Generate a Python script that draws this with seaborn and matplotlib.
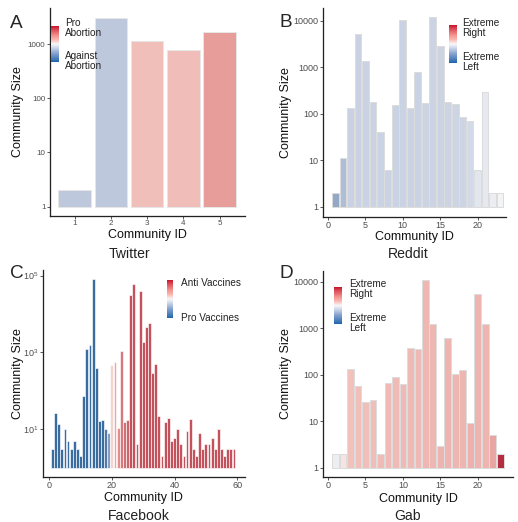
import numpy as np
import pandas as pd
import seaborn as sns
import matplotlib.pyplot as plt
from matplotlib.colors import LinearSegmentedColormap, Normalize
from matplotlib.cm import ScalarMappable

# dados (tamanho das comunidades e inclinação)
twitter_ids = [1, 2, 3, 4, 5]
twitter_size = [2, 3100, 1170, 790, 1660]
twitter_lean = [-0.3, -0.3, 0.24, 0.25, 0.47]

reddit_ids = list(range(1, 24))
reddit_size = [2, 11, 130, 5100, 1380, 180, 40, 6, 150, 10300, 135, 790,
               170, 11800, 2800, 180, 162, 86, 71, 6, 290, 2, 2]
reddit_lean = [-0.5, -0.36, -0.25, -0.25, -0.24, -0.24, -0.24, -0.24, -0.24,
               -0.24, -0.24, -0.24, -0.23, -0.23, -0.23, -0.23, -0.22, -0.22,
               -0.2, -0.11, -0.09, -0.07, -0.02]

facebook_ids = list(range(1, 60))
facebook_size = [3, 27, 14, 3, 10, 5, 3, 5, 3, 2, 71, 1200, 1550, 80000, 390,
                 16, 17, 10, 8, 475, 570, 11, 1100, 15, 17, 32000, 59000, 4,
                 40000, 1900, 4700, 5900, 290, 490, 22, 2, 15, 19, 5, 6, 10, 4,
                 2, 9, 18, 3, 2, 8, 3, 4, 4, 6, 3, 10, 3, 2, 3, 3, 3]
facebook_lean = [-0.95] * 17 + [-0.85, -0.55, 0.15, 0.4, 0.55, 0.65, 0.7,
                                0.75] + [0.85] * 34

gab_ids = list(range(1, 24))
gab_size = [2, 2, 130, 57, 26, 29, 2, 67, 89, 63, 380, 360, 10700, 1250, 3,
            620, 103, 126, 9, 5400, 1250, 5, 2]
gab_lean = [-0.06, 0.08, 0.23, 0.24, 0.24, 0.25, 0.26, 0.26, 0.27, 0.28, 0.28,
            0.28, 0.29, 0.29, 0.31, 0.31, 0.3, 0.3, 0.34, 0.32, 0.32, 0.42, 0.97]

W, H = 518, 522
cmap = LinearSegmentedColormap.from_list("lean", [
    (0.0, "#1a5fa8"), (0.025, "#2b6cb0"), (0.25, "#8aa4d0"), (0.38, "#c6d1e8"),
    (0.5, "#f7f7f7"), (0.62, "#fab7b1"), (0.74, "#f4918b"), (0.925, "#d6404e"),
    (1.0, "#c8102a")])
norm = Normalize(-1, 1)

sns.set_style("white")
plt.rcParams['font.family'] = ['Liberation Sans', 'DejaVu Sans']
plt.rcParams['mathtext.default'] = 'regular'


def fx(px):
    return px / W


def fy(py):
    return 1 - py / H


def draw_panel(box, ids, sizes, lean, xlim, ylim, xticks, yticks, yticklabels,
               edge, lw, tick_size):
    left, top, right, bottom = box
    ax = fig.add_axes([fx(left), fy(bottom), fx(right - left), (bottom - top) / H])
    df = pd.DataFrame({'id': ids, 'logsize': np.log10(sizes)})
    pal = {i: cmap(norm(v)) for i, v in zip(ids, lean)}
    sns.barplot(data=df, x='id', y='logsize', hue='id', palette=pal,
                native_scale=True, width=0.9, edgecolor=edge, linewidth=lw,
                errorbar=None, legend=False, ax=ax)
    ax.set_xlim(*xlim)
    ax.set_ylim(*ylim)
    ax.set_xticks(xticks)
    ax.set_yticks(yticks)
    ax.set_yticklabels(yticklabels)
    sns.despine(ax=ax)
    for s in ['left', 'bottom']:
        ax.spines[s].set_color('#222222')
        ax.spines[s].set_linewidth(1.3)
    ax.tick_params(length=3, width=0.8, color='#333333', labelcolor='#4d4d4d',
                   labelsize=tick_size, pad=1.5, left=True, bottom=True)
    ax.tick_params(axis='x', pad=1)
    ax.set_xlabel('Community ID', fontsize=12.5, color='#111111')
    ax.set_ylabel('Community Size', fontsize=12.5, color='#111111')
    return ax


def add_key(bar_box, top_label, bottom_label, label_x, top_y, bottom_y):
    left, top, right, bottom = bar_box
    cax = fig.add_axes([fx(left), fy(bottom), fx(right - left), (bottom - top) / H])
    cb = fig.colorbar(ScalarMappable(norm=norm, cmap=cmap), cax=cax)
    cb.outline.set_visible(False)
    cb.set_ticks([])
    fig.text(fx(label_x), fy(top_y), top_label, va='center', ha='left',
             fontsize=10, linespacing=1.0, color='#222222')
    fig.text(fx(label_x), fy(bottom_y), bottom_label, va='center', ha='left',
             fontsize=10, linespacing=1.0, color='#222222')


fig = plt.figure(figsize=(W / 72, H / 72), dpi=72)

# A - Twitter
ax_a = draw_panel((50, 8, 245, 216), twitter_ids, twitter_size, twitter_lean,
                  (0.32, 5.7), (-0.175, 3.67), [1, 2, 3, 4, 5], [0, 1, 2, 3],
                  ['1', '10', '100', '1000'], '#e6e6e6', 1.0, 8)
ax_a.xaxis.set_label_coords(0.5, -0.062)
ax_a.yaxis.set_label_coords(-0.133, 0.5)
add_key((51, 26, 59, 62), 'Pro\nAbortion', 'Against\nAbortion', 65, 28, 61)

# B - Reddit
ax_b = draw_panel((323, 8, 506, 216.7), reddit_ids, reddit_size, reddit_lean,
                  (-0.67, 23.8), (-0.215, 4.27), [0, 5, 10, 15, 20],
                  [0, 1, 2, 3, 4], ['1', '10', '100', '1000', '10000'],
                  '#dcdcdc', 1.0, 9)
ax_b.xaxis.set_label_coords(0.5, -0.068)
ax_b.yaxis.set_label_coords(-0.169, 0.5)
add_key((449, 25, 457, 63), 'Extreme\nRight', 'Extreme\nLeft', 462, 28, 62)

# C - Facebook
ax_c = draw_panel((42.7, 270, 245, 477), facebook_ids, facebook_size,
                  facebook_lean, (-2.1, 62.5), (-0.245, 5.145), [0, 20, 40, 60],
                  [1, 3, 5], ['$10^1$', '$10^3$', '$10^5$'], 'white', 0.6, 9)
ax_c.xaxis.set_label_coords(0.5, -0.074)
ax_c.yaxis.set_label_coords(-0.092, 0.5)
add_key((167, 280, 173, 318), 'Anti Vaccines', 'Pro Vaccines', 180.7, 283, 318)

# D - Gab
ax_d = draw_panel((323, 271, 513, 477), gab_ids, gab_size, gab_lean,
                  (-0.67, 24.7), (-0.2, 4.23), [0, 5, 10, 15, 20],
                  [0, 1, 2, 3, 4], ['1', '10', '100', '1000', '10000'],
                  '#dcdcdc', 1.0, 9)
ax_d.xaxis.set_label_coords(0.5, -0.078)
ax_d.yaxis.set_label_coords(-0.163, 0.5)
add_key((334, 287, 342, 324), 'Extreme\nRight', 'Extreme\nLeft', 348.7, 289, 323)

# letras e nomes das plataformas
for letter, x, y in [('A', 10, 27.5), ('B', 279.7, 27), ('C', 10, 278), ('D', 279.7, 278)]:
    fig.text(fx(x), fy(y), letter, fontsize=19, va='baseline', ha='left')
for name, x, y in [('Twitter', 129.5, 258), ('Reddit', 408, 258),
                   ('Facebook', 139, 519.5), ('Gab', 408, 519.5)]:
    fig.text(fx(x), fy(y), name, fontsize=14, va='baseline', ha='center',
             color='#222222')

plt.savefig('out.png', dpi=72)
plt.close()
